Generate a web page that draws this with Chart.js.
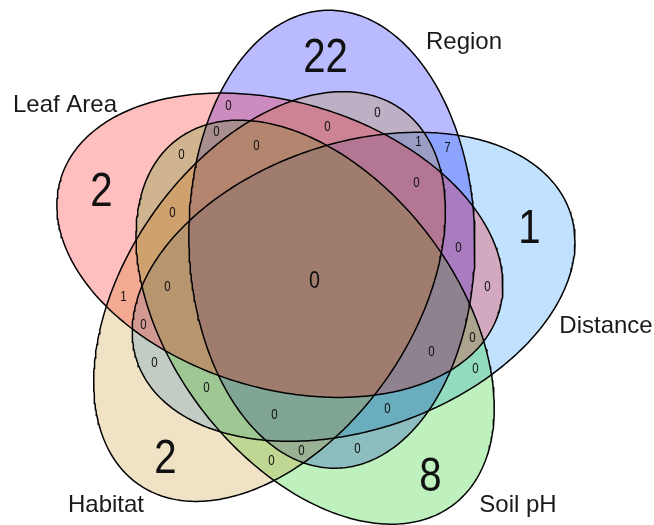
<!DOCTYPE html>
<html>
<head>
<meta charset="utf-8">
<script src="https://cdn.jsdelivr.net/npm/chart.js@4.4.1/dist/chart.umd.min.js"></script>
<style>
html,body{margin:0;padding:0;background:#ffffff;}
#wrap{width:654px;height:525px;}
</style>
</head>
<body>
<div id="wrap"><canvas id="c" width="654" height="525"></canvas></div>
<script>
// ---------------- data ----------------
const setNames = ['Region', 'Distance', 'Soil pH', 'Habitat', 'Leaf Area'];

// every region of the 5-set diagram, named by the sets it belongs to
const comboNames = [
  'Region', 'Distance', 'Soil pH', 'Habitat', 'Leaf Area',
  'Region&Distance', 'Region&Soil pH', 'Region&Habitat', 'Region&Leaf Area',
  'Distance&Soil pH', 'Distance&Habitat', 'Distance&Leaf Area',
  'Soil pH&Habitat', 'Soil pH&Leaf Area', 'Habitat&Leaf Area',
  'Region&Distance&Soil pH', 'Region&Distance&Habitat', 'Region&Distance&Leaf Area',
  'Region&Soil pH&Habitat', 'Region&Soil pH&Leaf Area', 'Region&Habitat&Leaf Area',
  'Distance&Soil pH&Habitat', 'Distance&Soil pH&Leaf Area', 'Distance&Habitat&Leaf Area',
  'Soil pH&Habitat&Leaf Area',
  'Region&Distance&Soil pH&Habitat', 'Region&Distance&Soil pH&Leaf Area',
  'Region&Distance&Habitat&Leaf Area', 'Region&Soil pH&Habitat&Leaf Area',
  'Distance&Soil pH&Habitat&Leaf Area',
  'Region&Distance&Soil pH&Habitat&Leaf Area'
];
const comboCounts = [
  22, 1, 8, 2, 2,
  7, 0, 0, 0,
  0, 0, 0,
  0, 0, 1,
  0, 1, 0,
  0, 0, 0,
  0, 0, 0,
  0,
  0, 0,
  0, 0,
  0,
  0
];

// ---------------- layout / style ----------------
const setFill = ['rgba(0,0,255,0.27)', 'rgba(30,144,255,0.27)', 'rgba(0,200,0,0.25)', 'rgba(195,140,20,0.25)', 'rgba(255,0,0,0.25)'];
const setLayer = [4, 5, 3, 2, 1];            // higher = painted earlier (further below)
const canvasW = 654, canvasH = 525;
const diagramCenter = [310, 278];
const centerOffset = 44.5;                    // distance of each ellipse centre from the diagram centre
const offsetAngle0 = 60.6;                    // degrees, first set
const axisAngle0 = 91.1;                      // degrees, first set major axis
const angleStep = -72;
const semiMajor = 229, semiMinor = 143;
const catLabelPos = [[464, 42], [606, 326], [518, 505], [106, 505], [65, 105]];
const bigLabelDrop = 7;                       // optical drop of the large single-set numbers
const centerLabelShift = [5, 4];

// ---------------- geometry ----------------
const rad = d => d * Math.PI / 180;
const ellipses = setNames.map((n, k) => {
  const th = rad(offsetAngle0 + angleStep * k);
  const al = rad(axisAngle0 + angleStep * k);
  return {
    cx: diagramCenter[0] + centerOffset * Math.cos(th),
    cy: diagramCenter[1] - centerOffset * Math.sin(th),
    ux: Math.cos(al), uy: -Math.sin(al),
    vx: Math.sin(al), vy: Math.cos(al)
  };
});
function ellipsePoints(e, n) {
  const pts = [];
  for (let i = 0; i <= n; i++) {
    const t = 2 * Math.PI * i / n;
    const a = semiMajor * Math.cos(t), b = semiMinor * Math.sin(t);
    pts.push({x: e.cx + a * e.ux + b * e.vx, y: e.cy + a * e.uy + b * e.vy});
  }
  return pts;
}
function inside(e, x, y) {
  const dx = x - e.cx, dy = y - e.cy;
  const pu = dx * e.ux + dy * e.uy, pv = dx * e.vx + dy * e.vy;
  return (pu * pu) / (semiMajor * semiMajor) + (pv * pv) / (semiMinor * semiMinor) < 1;
}
function maskOf(x, y) {
  let m = 0;
  for (let k = 0; k < ellipses.length; k++) if (inside(ellipses[k], x, y)) m |= (1 << k);
  return m;
}
// label anchor of every region: the point farthest from the region's edges
function regionAnchors() {
  const W = canvasW, H = canvasH;
  const lab = new Int32Array(W * H);
  for (let y = 0; y < H; y++) for (let x = 0; x < W; x++) lab[y * W + x] = maskOf(x + 0.5, y + 0.5);
  const d = new Float32Array(W * H);
  for (let y = 0; y < H; y++) for (let x = 0; x < W; x++) {
    const i = y * W + x, l = lab[i];
    let b = (x === 0 || y === 0 || x === W - 1 || y === H - 1);
    if (!b) b = lab[i - 1] !== l || lab[i + 1] !== l || lab[i - W] !== l || lab[i + W] !== l;
    d[i] = b ? 0 : 1e9;
  }
  const S = Math.SQRT2;
  for (let y = 1; y < H; y++) for (let x = 1; x < W - 1; x++) {
    const i = y * W + x;
    d[i] = Math.min(d[i], d[i - 1] + 1, d[i - W] + 1, d[i - W - 1] + S, d[i - W + 1] + S);
  }
  for (let y = H - 2; y >= 0; y--) for (let x = W - 2; x >= 1; x--) {
    const i = y * W + x;
    d[i] = Math.min(d[i], d[i + 1] + 1, d[i + W] + 1, d[i + W + 1] + S, d[i + W - 1] + S);
  }
  const best = {};
  for (let i = 0; i < W * H; i++) {
    const l = lab[i];
    if (!l) continue;
    if (!best[l] || d[i] > best[l].d) best[l] = {d: d[i], x: (i % W) + 0.5, y: Math.floor(i / W) + 0.5};
  }
  return best;
}
const anchors = regionAnchors();
const comboMask = comboNames.map(c => c.split('&').reduce((m, s) => m | (1 << setNames.indexOf(s)), 0));

// ---------------- chart ----------------
const datasets = setNames.map((n, k) => ({
  label: n,
  data: ellipsePoints(ellipses[k], 360),
  showLine: true,
  fill: 'shape',
  backgroundColor: setFill[k],
  borderColor: '#000000',
  borderWidth: 1.5,
  pointRadius: 0,
  pointHoverRadius: 0,
  tension: 0,
  clip: false,
  order: setLayer[k]
}));

const labelPlugin = {
  id: 'vennLabels',
  afterDatasetsDraw(chart) {
    const ctx = chart.ctx, xs = chart.scales.x, ys = chart.scales.y;
    ctx.save();
    ctx.textAlign = 'center';
    ctx.textBaseline = 'middle';
    ctx.fillStyle = '#111111';
    comboNames.forEach((c, i) => {
      const a = anchors[comboMask[i]];
      if (!a) return;
      const nSets = c.split('&').length;
      let size = 14, vx = a.x, vy = a.y;
      if (nSets === 1) { size = 49; vy += bigLabelDrop; }
      if (nSets === 5) { size = 24; vx += centerLabelShift[0]; vy += centerLabelShift[1]; }
      const px = xs.getPixelForValue(vx), py = ys.getPixelForValue(vy);
      ctx.save();
      ctx.translate(px, py);
      ctx.scale(0.82, 1);
      ctx.font = size + 'px "Liberation Sans", Arial, sans-serif';
      ctx.fillText(String(comboCounts[i]), 0, 0);
      ctx.restore();
    });
    ctx.font = '24px "Liberation Sans", Arial, sans-serif';
    ctx.fillStyle = '#1a1a1a';
    setNames.forEach((n, k) => {
      ctx.fillText(n, xs.getPixelForValue(catLabelPos[k][0]), ys.getPixelForValue(catLabelPos[k][1]));
    });
    ctx.restore();
  }
};

new Chart(document.getElementById('c'), {
  type: 'line',
  data: {datasets},
  options: {
    responsive: false,
    animation: false,
    devicePixelRatio: 1,
    layout: {padding: 0},
    scales: {
      x: {type: 'linear', min: 0, max: canvasW, display: false},
      y: {type: 'linear', min: 0, max: canvasH, reverse: true, display: false}
    },
    plugins: {
      legend: {display: false},
      tooltip: {enabled: false},
      filler: {drawTime: 'beforeDatasetsDraw', propagate: false}
    },
    events: []
  },
  plugins: [labelPlugin]
});
</script>
</body>
</html>
